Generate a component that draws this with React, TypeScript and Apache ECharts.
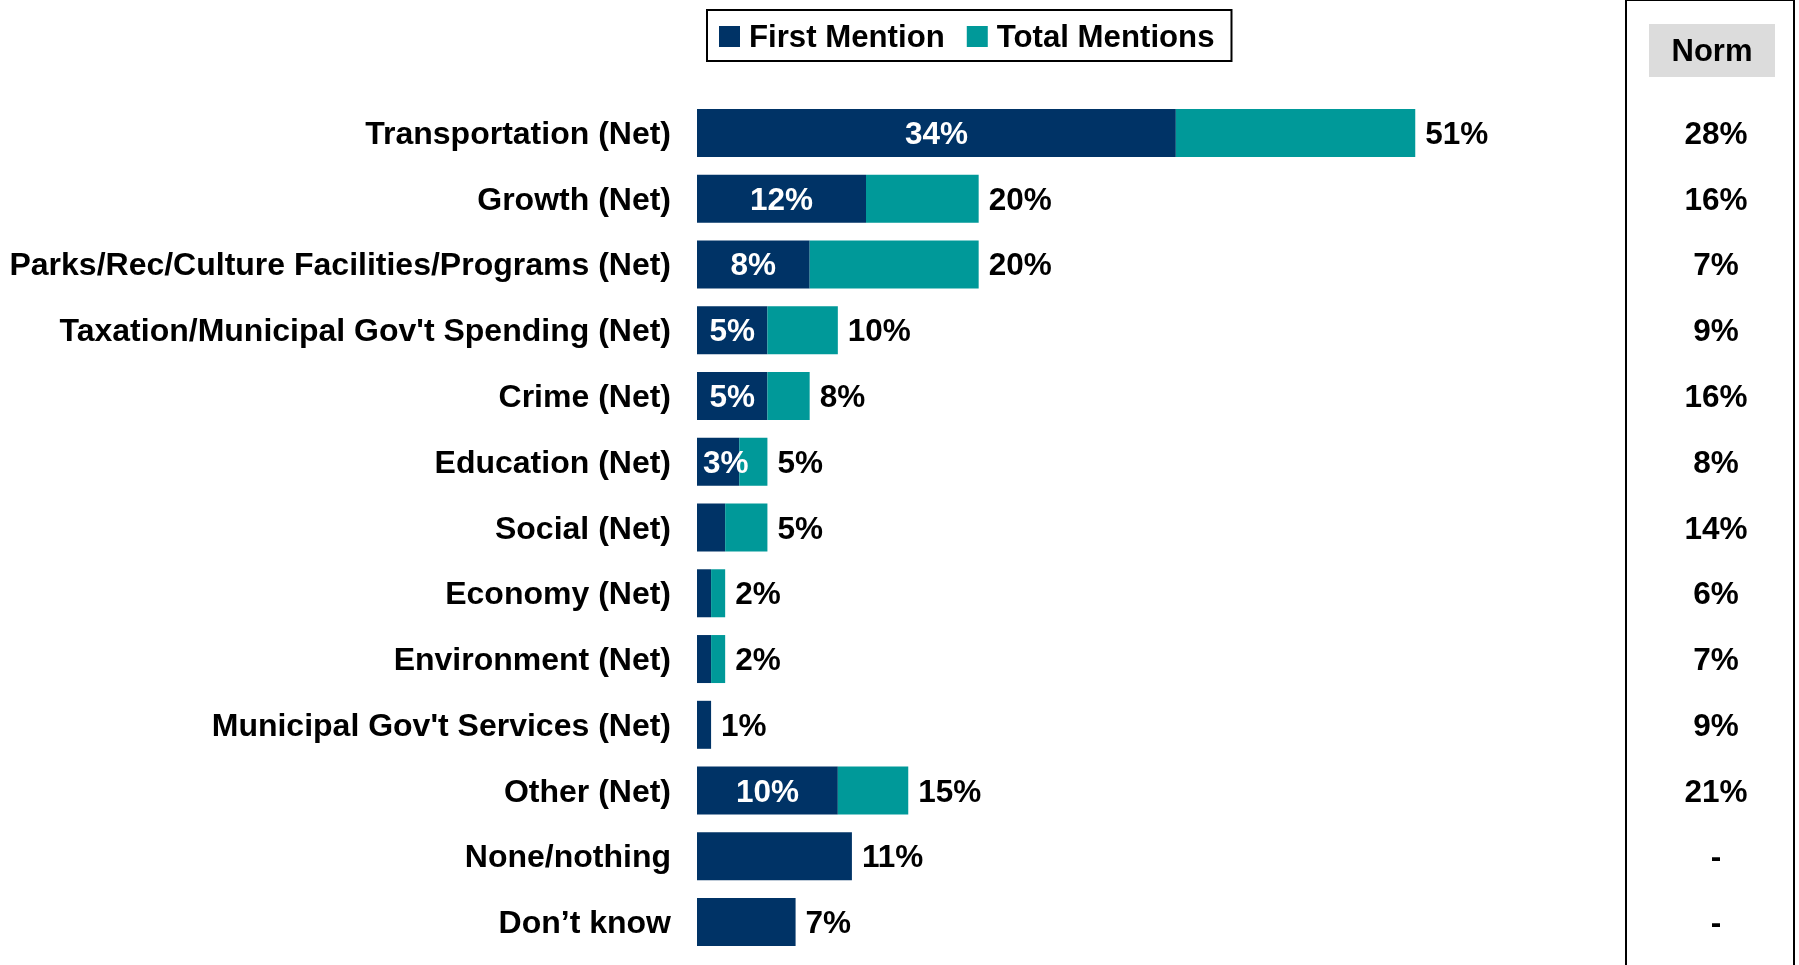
import React, { useEffect, useRef } from "react";
import * as echarts from "echarts";

const categories = [
  "Transportation (Net)",
  "Growth (Net)",
  "Parks/Rec/Culture Facilities/Programs (Net)",
  "Taxation/Municipal Gov't Spending (Net)",
  "Crime (Net)",
  "Education (Net)",
  "Social (Net)",
  "Economy (Net)",
  "Environment (Net)",
  "Municipal Gov't Services (Net)",
  "Other (Net)",
  "None/nothing",
  "Don\u2019t know",
];
const firstMention = [34, 12, 8, 5, 5, 3, 2, 1, 1, 1, 10, 11, 7];
const totalMentions = [51, 20, 20, 10, 8, 5, 5, 2, 2, 1, 15, 11, 7];
const normValues = ["28%", "16%", "7%", "9%", "16%", "8%", "14%", "6%", "7%", "9%", "21%", "-", "-"];

const DARK = "#003366";
const TEAL = "#009999";
const FONT = "'Liberation Sans', Arial, sans-serif";

export default function App() {
  const ref = useRef<HTMLDivElement>(null);
  useEffect(() => {
    const chart = echarts.init(ref.current!, null, { renderer: "svg" });
    const showInside = firstMention.map((v, i) => v >= 3 && totalMentions[i] > v);
    chart.setOption({
      animation: false,
      textStyle: { fontFamily: FONT },
      legend: {
        left: 707,
        top: 10,
        padding: [11, 17, 9, 12],
        borderColor: "#000",
        borderWidth: 2,
        itemWidth: 21,
        itemHeight: 21,
        itemGap: 22,
        icon: "rect",
        textStyle: { fontFamily: FONT, fontSize: 31.2, fontWeight: "bold", color: "#000", padding: [0, 0, 0, 4] },
        data: ["First Mention", "Total Mentions"],
      },
      grid: { left: 697, right: 257, top: 100, bottom: 10 },
      xAxis: { type: "value", min: 0, max: 60, show: false },
      yAxis: [
        {
          type: "category",
          data: categories,
          inverse: true,
          axisLine: { show: false },
          axisTick: { show: false },
          axisLabel: { margin: 26, fontFamily: FONT, fontSize: 32, fontWeight: "bold", color: "#000" },
        },
        {
          type: "category",
          data: categories,
          inverse: true,
          position: "right",
          axisLine: { show: false },
          axisTick: { show: false },
          axisLabel: {
            margin: 174,
            align: "center",
            fontFamily: FONT,
            fontSize: 31.5,
            fontWeight: "bold",
            color: "#000",
            formatter: (_v: string, i: number) => normValues[i],
          },
        },
      ],
      series: [
        {
          name: "First Mention",
          type: "bar",
          stack: "m",
          barWidth: 48,
          itemStyle: { color: DARK },
          label: {
            position: "inside",
            color: "#fff",
            fontFamily: FONT,
            fontSize: 31.5,
            fontWeight: "bold",
            formatter: "{c}%",
          },
          data: firstMention.map((v, i) => ({
            value: v,
            label: v <= 3
              ? { show: showInside[i], position: "insideLeft", distance: 6 }
              : { show: showInside[i] },
          })),
        },
        {
          name: "Total Mentions",
          type: "bar",
          stack: "m",
          barWidth: 48,
          itemStyle: { color: TEAL },
          label: {
            show: true,
            position: "right",
            distance: 10,
            color: "#000",
            fontFamily: FONT,
            fontSize: 31.5,
            fontWeight: "bold",
            formatter: (p: any) => totalMentions[p.dataIndex] + "%",
          },
          data: totalMentions.map((t, i) => t - firstMention[i]),
        },
      ],
      graphic: [
        {
          type: "rect",
          shape: { x: 1626, y: 0, width: 168, height: 1000 },
          style: { fill: "none", stroke: "#000", lineWidth: 2 },
        },
        {
          type: "rect",
          shape: { x: 1649, y: 24, width: 126, height: 53 },
          style: { fill: "#DCDCDC" },
        },
        {
          type: "text",
          x: 1712,
          y: 50,
          style: {
            text: "Norm",
            fontFamily: FONT,
            fontSize: 31,
            fontWeight: "bold",
            fill: "#000",
            align: "center",
            verticalAlign: "middle",
          },
        },
      ],
    });
    return () => chart.dispose();
  }, []);
  return <div ref={ref} style={{ position: "fixed", left: 0, top: 0, width: 1799, height: 965 }} />;
}
